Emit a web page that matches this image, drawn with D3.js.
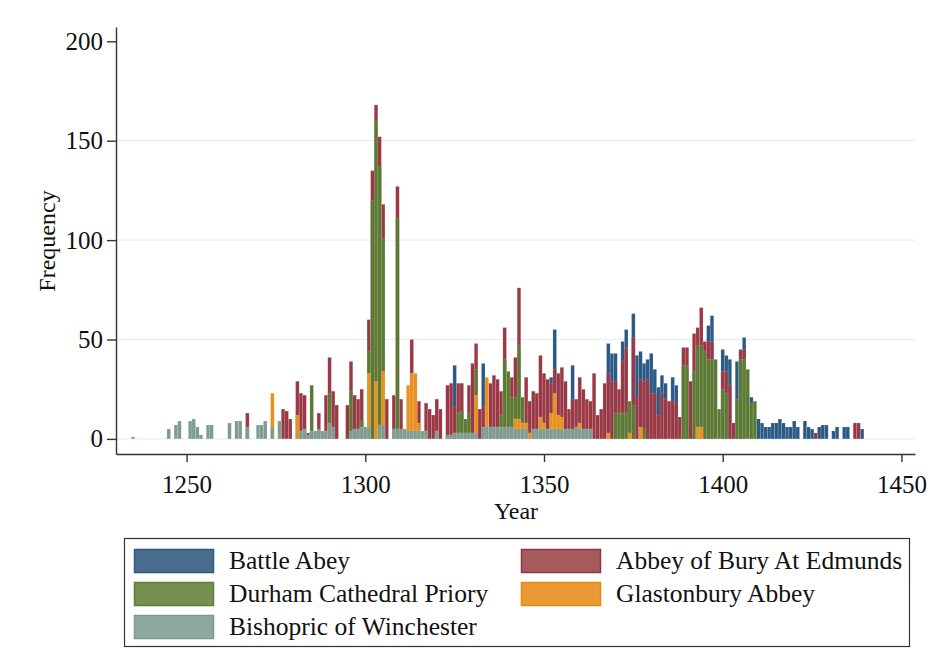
<!DOCTYPE html>
<html>
<head>
<meta charset="utf-8">
<script src="https://cdn.jsdelivr.net/npm/d3@7/dist/d3.min.js"></script>
<style>
  html, body { margin: 0; padding: 0; background: #ffffff; }
  svg { display: block; font-family: "Liberation Serif", "Times New Roman", serif; }
</style>
</head>
<body>
<svg id="chart" width="934" height="649"></svg>
<script>
// ---- data: [year, frequency] per series ----
const seriesNames = ["Battle Abey", "Abbey of Bury At Edmunds", "Durham Cathedral Priory", "Glastonbury Abbey", "Bishopric of Winchester"];

const battle = [[1325,37],[1333,38],[1352,31],[1353,55],[1358,37],[1368,48],[1369,43],[1370,43],[1372,49],[1373,55],
  [1375,63],[1376,42],[1377,44],[1378,38],[1379,40],[1380,43],[1381,35],[1382,26],[1383,32],[1384,28],[1386,31],[1387,27],
  [1396,57],[1397,62],[1400,45],[1401,42],[1402,40],[1404,39],[1406,51],[1408,21],[1410,10],[1411,8],[1412,6],[1413,6],
  [1414,8],[1415,8],[1416,10],[1417,8],[1418,6],[1419,6],[1420,9],[1421,6],[1423,9],[1424,6],[1425,5],[1427,6],[1428,7],
  [1429,7],[1431,4],[1432,6],[1434,6],[1435,6],[1439,5]];

const bury = [[1267,13],[1277,15],[1278,14],[1279,10],[1281,29],[1282,23],[1283,22],[1284,3],[1287,13],[1289,22],[1290,41],
  [1291,24],[1292,17],[1295,17],[1296,39],[1297,22],[1298,20],[1299,25],[1301,60],[1302,135],[1303,168],[1304,152],[1305,118],
  [1306,20],[1308,22],[1309,127],[1310,20],[1313,50],[1315,19],[1317,18],[1318,15],[1319,12],[1320,20],[1321,15],[1323,27],
  [1324,28],[1325,16],[1326,28],[1327,28],[1329,27],[1330,38],[1331,48],[1332,15],[1333,16],[1335,28],[1336,32],[1337,30],
  [1338,24],[1339,56],[1341,31],[1342,41],[1343,76],[1345,31],[1346,19],[1347,24],[1348,23],[1349,42],[1350,33],[1351,30],
  [1352,28],[1353,35],[1354,33],[1355,36],[1356,29],[1357,15],[1358,20],[1359,20],[1360,31],[1361,25],[1362,20],[1363,19],
  [1364,33],[1365,12],[1366,15],[1367,28],[1368,33],[1369,29],[1370,29],[1371,25],[1372,39],[1373,46],[1375,51],[1376,21],
  [1377,30],[1378,29],[1379,30],[1380,23],[1381,23],[1382,12],[1383,23],[1384,20],[1385,19],[1386,19],[1387,18],[1388,11],
  [1389,46],[1390,46],[1391,29],[1392,53],[1393,56],[1394,66],[1395,49],[1396,49],[1397,49],[1400,34],[1401,34],[1402,27],
  [1403,8],[1405,45],[1406,45],[1426,3],[1437,8],[1438,8]];

const durham = [[1285,27],[1290,23],[1296,24],[1299,9],[1301,44],[1302,120],[1303,160],[1304,137],[1305,101],[1309,111],
  [1326,13],[1327,14],[1328,10],[1329,13],[1331,35],[1338,12],[1339,40],[1340,34],[1341,21],[1342,21],[1343,47],[1344,21],
  [1370,13],[1371,13],[1372,13],[1373,13],[1374,19],[1375,17],[1378,5],[1389,37],[1390,37],[1392,34],[1393,47],[1394,47],
  [1395,44],[1396,40],[1397,40],[1398,40],[1399,15],[1400,25],[1401,23],[1404,20],[1405,40],[1406,40],[1407,35],[1408,18],[1409,19]];

const glastonbury = [[1274,23],[1281,12],[1301,33],[1303,29],[1305,34],[1312,27],[1313,33],[1314,33],[1315,8],[1331,22],
  [1334,31],[1342,10],[1343,10],[1344,8],[1345,8],[1346,3],[1349,11],[1350,8],[1352,13],[1353,23],[1354,12],[1355,11],
  [1360,8],[1368,3],[1374,3],[1377,6],[1393,6],[1394,6]];

const winchester = [[1235,1],[1245,5],[1247,7],[1248,9],[1251,9],[1252,10],[1253,6],[1254,2],[1256,7],[1257,7],[1262,8],
  [1264,9],[1265,9],[1267,6],[1270,7],[1271,7],[1272,9],[1274,6],[1276,9],[1282,4],[1283,5],[1284,2],[1285,4],[1286,4],
  [1287,5],[1288,4],[1289,4],[1290,8],[1291,6],[1296,4],[1297,5],[1298,5],[1299,6],[1300,6],[1301,6],[1304,7],[1305,7],
  [1308,5],[1309,5],[1310,5],[1311,5],[1312,4],[1313,4],[1314,4],[1315,4],[1316,4],[1317,4],[1320,4],[1323,2],[1324,2],
  [1325,3],[1326,3],[1327,3],[1328,3],[1329,3],[1330,3],[1331,3],[1333,6],[1334,6],[1335,6],[1336,6],[1337,6],[1338,6],
  [1339,6],[1340,6],[1341,6],[1342,5],[1343,5],[1344,5],[1345,5],[1347,5],[1348,5],[1349,5],[1350,5],[1351,5],[1352,5],
  [1353,5],[1354,5],[1355,5],[1356,5],[1357,5],[1358,5],[1359,6],[1360,5],[1361,5],[1362,5],[1363,5]];

const xTicks = [1250, 1300, 1350, 1400, 1450];
const yTicks = [0, 50, 100, 150, 200];
const yGrid = [0, 50, 100, 150];

// ---- styles ----
const barColors = ["#2b5a86", "#9a3945", "#5b7b34", "#e8911f", "#7e9c91"];
const keyFill   = ["#4a6d8d", "#a65a5e", "#76904f", "#ec9a35", "#8fa89e"];
const keyStroke = ["#2e5a80", "#923443", "#5e7b38", "#e8890f", "#7b9a8f"];

const svg = d3.select("#chart");
const x = d3.scaleLinear().domain([1230.25, 1453.8]).range([116, 915]);
const y = d3.scaleLinear().domain([-7.6, 207.2]).range([454, 27]);
const bw = x(1) - x(0);

// gridlines
svg.append("g").selectAll("line").data(yGrid).join("line")
  .attr("x1", 116).attr("x2", 915)
  .attr("y1", d => y(d)).attr("y2", d => y(d))
  .attr("stroke", "#e9f0f2").attr("stroke-width", 1.3);

// bars (overlaid in plot order)
const allSeries = [battle, bury, durham, glastonbury, winchester];
allSeries.forEach((s, i) => {
  svg.append("g").selectAll("rect").data(s).join("rect")
    .attr("x", d => x(d[0]) - bw / 2)
    .attr("width", bw)
    .attr("y", d => y(d[1]))
    .attr("height", d => y(0) - y(d[1]))
    .attr("fill", barColors[i])
    .attr("stroke", "rgba(255,255,255,0.25)")
    .attr("stroke-width", 0.5);
});

// axes
const yAxis = svg.append("g").attr("transform", "translate(116,0)")
  .call(d3.axisLeft(y).tickValues(yTicks).tickSize(9).tickPadding(4).tickSizeOuter(0));
const xAxis = svg.append("g").attr("transform", "translate(0,454)")
  .call(d3.axisBottom(x).tickValues(xTicks).tickFormat(d3.format("d")).tickSize(8).tickSizeOuter(0));
[yAxis, xAxis].forEach(a => {
  a.select(".domain").attr("stroke", "#333").attr("stroke-width", 1.4);
  a.selectAll(".tick line").attr("stroke", "#333").attr("stroke-width", 1.4);
  a.selectAll(".tick text").attr("fill", "#111").style("font-size", "25px")
    .style("font-family", "'Liberation Serif', 'Times New Roman', serif");
});
xAxis.selectAll(".tick text").attr("dy", null).attr("y", 39);

// axis titles
svg.append("text").attr("x", 516).attr("y", 519).attr("text-anchor", "middle")
  .style("font-size", "24px").attr("fill", "#111").text("Year");
svg.append("text").attr("transform", "translate(55,241) rotate(-90)").attr("text-anchor", "middle")
  .style("font-size", "24px").attr("fill", "#111").text("Frequency");

// legend
const lg = svg.append("g");
lg.append("rect").attr("x", 124.5).attr("y", 538.5).attr("width", 785).attr("height", 108)
  .attr("fill", "#fff").attr("stroke", "#333").attr("stroke-width", 1.2);
const keyPos = [[134, 549], [521, 549], [134, 582], [521, 582], [134, 615]];
seriesNames.forEach((n, i) => {
  const [kx, ky] = keyPos[i];
  lg.append("rect").attr("x", kx + 0.5).attr("y", ky + 0.5).attr("width", 79).attr("height", 23)
    .attr("fill", keyFill[i]).attr("stroke", keyStroke[i]).attr("stroke-width", 1.5);
  lg.append("text").attr("x", kx + 95).attr("y", ky + 20)
    .style("font-size", "25.5px").attr("fill", "#111").text(n);
});
</script>
</body>
</html>
